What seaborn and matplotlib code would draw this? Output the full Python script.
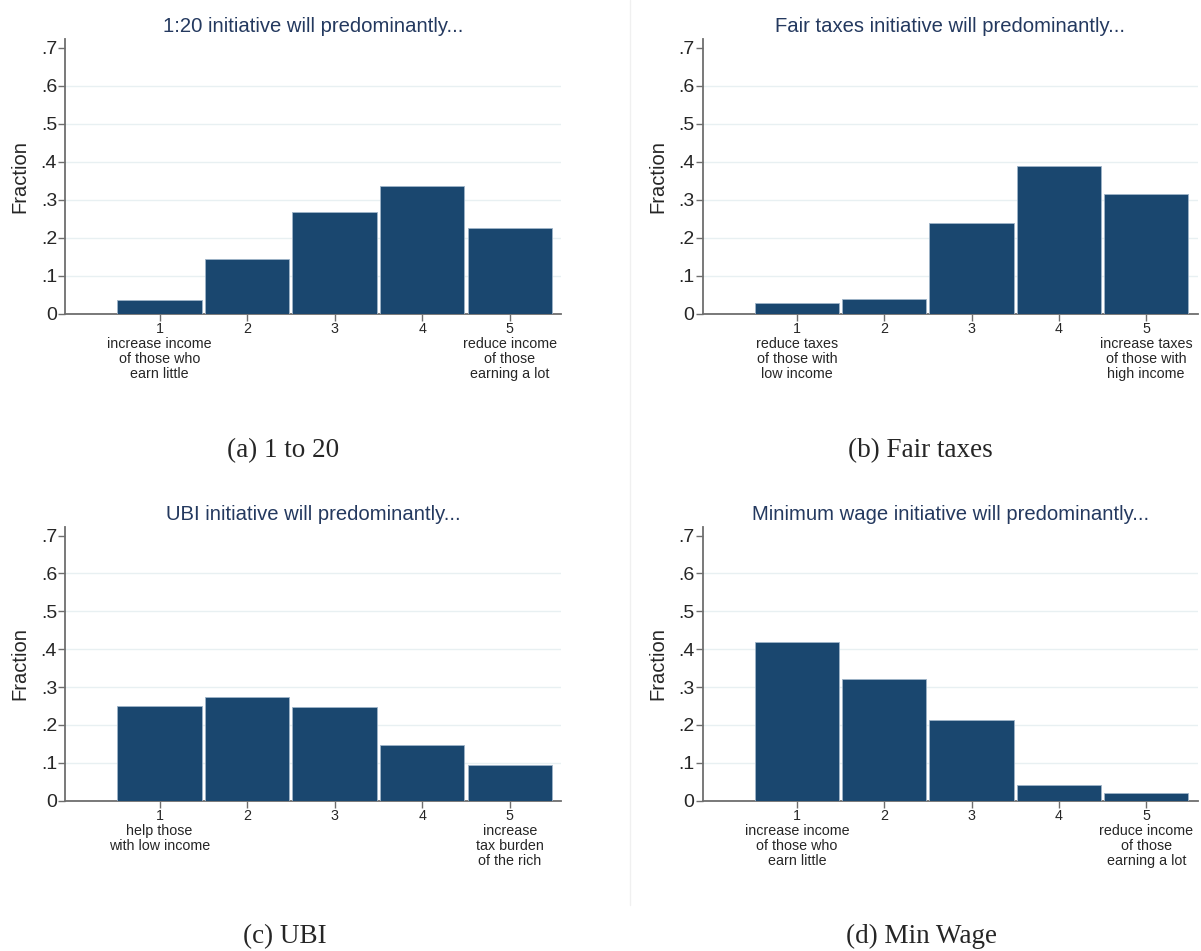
import numpy as np
import pandas as pd
import matplotlib
matplotlib.use('Agg')
import matplotlib.pyplot as plt
import seaborn as sns

#datos (fraccion por categoria 1-5)
levels = [1, 2, 3, 4, 5]
frac_120 = [0.036, 0.144, 0.267, 0.337, 0.226]
frac_fair = [0.029, 0.038, 0.239, 0.390, 0.316]
frac_ubi = [0.249, 0.275, 0.247, 0.147, 0.095]
frac_minwage = [0.418, 0.322, 0.213, 0.041, 0.020]

titles = ['1:20 initiative will predominantly...',
          'Fair taxes initiative will predominantly...',
          'UBI initiative will predominantly...',
          'Minimum wage initiative will predominantly...']
captions = ['(a) 1 to 20', '(b) Fair taxes', '(c) UBI', '(d) Min Wage']

labels_120 = ['1\nincrease income\nof those who\nearn little', '2', '3', '4',
              '5\nreduce income\nof those\nearning a lot']
labels_fair = ['1\nreduce taxes\nof those with\nlow income', '2', '3', '4',
               '5\nincrease taxes\nof those with\nhigh income']
labels_ubi = ['1\nhelp those\nwith low income', '2', '3', '4',
              '5\nincrease\ntax burden\nof the rich']
labels_minwage = labels_120

y_ticks = [0, 0.1, 0.2, 0.3, 0.4, 0.5, 0.6, 0.7]
y_ticklabels = ['0', '.1', '.2', '.3', '.4', '.5', '.6', '.7']

sns.set_theme(style='white')
plt.rcParams['font.family'] = ['Liberation Sans', 'DejaVu Sans']

bar_color = '#1a476f'
title_color = '#24395f'
grid_color = '#e8f0f2'
axis_color = '#6e6e6e'

fig = plt.figure(figsize=(12.01, 9.51), dpi=100)

# posiciones de los paneles [left, bottom, width, height]
panel_pos = [[0.0545, 0.670, 0.413, 0.289],
             [0.5853, 0.670, 0.412, 0.289],
             [0.0545, 0.158, 0.413, 0.288],
             [0.5853, 0.158, 0.412, 0.288]]
caption_pos = [(0.236, 0.526), (0.766, 0.526), (0.237, 0.015), (0.767, 0.015)]

datasets = [frac_120, frac_fair, frac_ubi, frac_minwage]
all_labels = [labels_120, labels_fair, labels_ubi, labels_minwage]

for pos, vals, labs, title, cap, cpos in zip(panel_pos, datasets, all_labels,
                                             titles, captions, caption_pos):
    ax = fig.add_axes(pos)
    df = pd.DataFrame({'nivel': levels, 'fraccion': vals})
    sns.histplot(data=df, x='nivel', weights='fraccion', discrete=True,
                 shrink=0.965, stat='count', color=bar_color, alpha=1,
                 edgecolor='#9fb4c8', linewidth=0.6, ax=ax, zorder=3)
    ax.set_xlim(-0.075, 5.59)
    ax.set_ylim(0, 0.723)
    ax.set_yticks(y_ticks)
    ax.set_yticklabels(y_ticklabels, fontsize=14)
    ax.set_xticks(levels)
    ax.set_xticklabels(labs, fontsize=10.3, linespacing=1.1)
    ax.set_xlabel('')
    ax.set_ylabel('Fraction', fontsize=14.5, labelpad=8)
    ax.set_title(title, fontsize=14.6, color=title_color, pad=5)
    ax.grid(axis='y', color=grid_color, linewidth=1.0, zorder=0)
    ax.yaxis.get_gridlines()[-1].set_visible(False)
    ax.tick_params(axis='y', length=5, width=1, color=axis_color, pad=1,
                   left=True)
    ax.tick_params(axis='x', length=5, width=1, color=axis_color, pad=1,
                   bottom=True)
    for s in ['top', 'right']:
        ax.spines[s].set_visible(False)
    for s in ['left', 'bottom']:
        ax.spines[s].set_color(axis_color)
        ax.spines[s].set_linewidth(1.3)
    fig.text(cpos[0], cpos[1], cap, ha='center', va='center',
             fontsize=19.5, family=['Liberation Serif', 'DejaVu Serif'])

# linea divisoria tenue entre columnas
fig.add_artist(plt.Line2D([0.5245, 0.5245], [0.048, 1.0], color='#f0f0f0',
                          linewidth=1, transform=fig.transFigure))

fig.savefig('out.png', dpi=100, facecolor='white')
